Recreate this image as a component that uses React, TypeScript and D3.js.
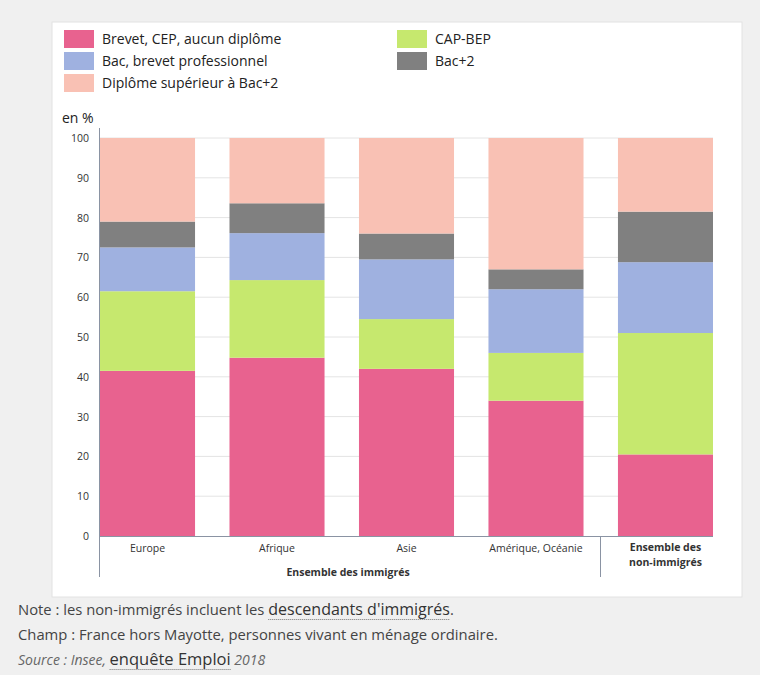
import React, { useEffect, useRef } from 'react';
import * as d3 from 'd3';

const categories = ['Europe', 'Afrique', 'Asie', 'Amérique, Océanie', 'Ensemble des non-immigrés'];
const seriesNames = [
  'Brevet, CEP, aucun diplôme',
  'CAP-BEP',
  'Bac, brevet professionnel',
  'Bac+2',
  'Diplôme supérieur à Bac+2',
];
const seriesColors = ['#e8628f', '#c6e86e', '#9fb1e0', '#808080', '#f9c1b4'];

const brevet = [41.5, 44.8, 42, 34, 20.5];
const capBep = [20, 19.5, 12.5, 12, 30.5];
const bac = [11, 11.8, 15, 16, 17.8];
const bac2 = [6.5, 7.5, 6.5, 5, 12.7];
const superieur = [21, 16.4, 24, 33, 18.5];

const yTicks = [0, 10, 20, 30, 40, 50, 60, 70, 80, 90, 100];

export default function App() {
  const svgRef = useRef<SVGSVGElement>(null);

  useEffect(() => {
    if (!svgRef.current) return;
    const svg = d3.select(svgRef.current);
    svg.selectAll('*').remove();
    const font = "'Open Sans', sans-serif";

    // page background + panel
    svg.append('rect').attr('width', 760).attr('height', 675).attr('fill', '#f0f0f0');
    svg.append('rect')
      .attr('x', 52).attr('y', 22).attr('width', 690).attr('height', 575)
      .attr('fill', '#fff').attr('stroke', '#e2e2e2');

    const rows = categories.map((c, i) => ({
      cat: c,
      vals: [brevet[i], capBep[i], bac[i], bac2[i], superieur[i]],
    }));

    const x = d3.scaleBand<string>()
      .domain(categories)
      .range([100, 713])
      .paddingInner(0.266)
      .paddingOuter(0);

    const y = d3.scaleLinear().domain([0, 100]).range([536, 138]);

    // grid
    svg.append('g')
      .selectAll('line')
      .data(yTicks.filter(t => t > 0))
      .join('line')
      .attr('x1', 100).attr('x2', 713)
      .attr('y1', d => y(d)).attr('y2', d => y(d))
      .attr('stroke', '#e4e4e4').attr('stroke-width', 1);

    // tick labels
    svg.append('g')
      .selectAll('text')
      .data(yTicks)
      .join('text')
      .attr('x', 89).attr('y', d => y(d) + 4)
      .attr('text-anchor', 'end')
      .attr('font-family', font).attr('font-size', 10.5).attr('fill', '#333')
      .text(d => d);

    // stacked bars
    const stack = d3.stack<{ cat: string; vals: number[] }, number>()
      .keys(d3.range(5))
      .value((d, k) => d.vals[k]);
    const layers = stack(rows);

    svg.append('g')
      .selectAll('g')
      .data(layers)
      .join('g')
      .attr('fill', (_, i) => seriesColors[i])
      .selectAll('rect')
      .data(d => d)
      .join('rect')
      .attr('x', d => x(d.data.cat)!)
      .attr('width', x.bandwidth())
      .attr('y', d => y(d[1]))
      .attr('height', d => y(d[0]) - y(d[1]));

    // axes lines
    svg.append('line').attr('x1', 100).attr('x2', 713).attr('y1', 536.5).attr('y2', 536.5)
      .attr('stroke', '#8a93a3');
    svg.append('line').attr('x1', 99.5).attr('x2', 99.5).attr('y1', 128).attr('y2', 577)
      .attr('stroke', '#8a93a3');
    svg.append('line').attr('x1', 600.5).attr('x2', 600.5).attr('y1', 537).attr('y2', 577)
      .attr('stroke', '#8a93a3');

    // category labels
    svg.append('g')
      .selectAll('text')
      .data(categories.slice(0, 4))
      .join('text')
      .attr('x', d => x(d)! + x.bandwidth() / 2)
      .attr('y', 552)
      .attr('text-anchor', 'middle')
      .attr('font-family', font).attr('font-size', 10.5).attr('fill', '#333')
      .text(d => d);

    const last = categories[4];
    const lx = x(last)! + x.bandwidth() / 2;
    const nonImm = svg.append('text')
      .attr('x', lx).attr('text-anchor', 'middle')
      .attr('font-family', font).attr('font-size', 10.5).attr('font-weight', 'bold').attr('fill', '#333');
    nonImm.append('tspan').attr('x', lx).attr('y', 551).text('Ensemble des');
    nonImm.append('tspan').attr('x', lx).attr('y', 566).text('non-immigrés');

    svg.append('text')
      .attr('x', 348).attr('y', 576).attr('text-anchor', 'middle')
      .attr('font-family', font).attr('font-size', 10.5).attr('font-weight', 'bold').attr('fill', '#333')
      .text('Ensemble des immigrés');

    // y unit
    svg.append('text')
      .attr('x', 62).attr('y', 123)
      .attr('font-family', font).attr('font-size', 14).attr('fill', '#222')
      .text('en %');

    // legend
    const legendPos = [
      { x: 64, y: 30 },
      { x: 397, y: 30 },
      { x: 64, y: 52 },
      { x: 397, y: 52 },
      { x: 64, y: 74 },
    ];
    const legendOrder = [0, 1, 2, 3, 4];
    const lg = svg.append('g')
      .selectAll('g')
      .data(legendOrder)
      .join('g')
      .attr('transform', (_, i) => `translate(${legendPos[i].x},${legendPos[i].y})`);
    lg.append('rect').attr('width', 30).attr('height', 18).attr('fill', d => seriesColors[d]);
    lg.append('text')
      .attr('x', 38).attr('y', 14)
      .attr('font-family', font).attr('font-size', 14).attr('fill', '#222')
      .text(d => seriesNames[d]);

    // footer notes
    const noteStyle = (t: d3.Selection<SVGTextElement, unknown, null, undefined>) =>
      t.attr('font-family', font).attr('font-size', 14.8).attr('fill', '#444');

    const n1 = svg.append('text').attr('x', 18).attr('y', 615);
    noteStyle(n1);
    n1.append('tspan').text('Note : les non-immigrés incluent les ');
    n1.append('tspan').attr('font-size', 16).attr('fill', '#333').text("descendants d'immigrés");
    n1.append('tspan').text('.');

    const n2 = svg.append('text').attr('x', 18).attr('y', 640);
    noteStyle(n2);
    n2.text('Champ : France hors Mayotte, personnes vivant en ménage ordinaire.');

    const n3 = svg.append('text').attr('x', 18).attr('y', 665);
    noteStyle(n3);
    n3.append('tspan').attr('font-style', 'italic').attr('font-size', 14).attr('fill', '#666').text('Source : Insee, ');
    n3.append('tspan').attr('font-size', 16.5).attr('fill', '#333').text('enquête Emploi');
    n3.append('tspan').attr('font-style', 'italic').attr('font-size', 14).attr('fill', '#666').text(' 2018');

    // dotted underlines for links
    const n1Node = n1.node() as SVGTextElement;
    const link1 = n1Node.childNodes[1] as SVGTSpanElement;
    const n3Node = n3.node() as SVGTextElement;
    const link3 = n3Node.childNodes[1] as SVGTSpanElement;
    [link1, link3].forEach((el, i) => {
      try {
        const b = el.getBBox();
        const yy = i === 0 ? 619.5 : 669.5;
        svg.append('line')
          .attr('x1', b.x).attr('x2', b.x + b.width)
          .attr('y1', yy).attr('y2', yy)
          .attr('stroke', '#777').attr('stroke-dasharray', '1,1');
      } catch (e) {
        // ignore
      }
    });
  }, []);

  return (
    <svg
      ref={svgRef}
      width={760}
      height={675}
      style={{ position: 'absolute', left: 0, top: 0 }}
    />
  );
}
